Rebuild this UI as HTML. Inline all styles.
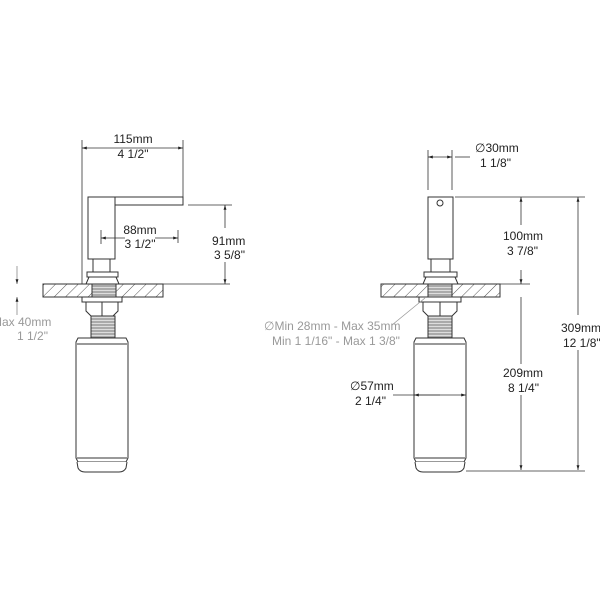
<!DOCTYPE html>
<html><head><meta charset="utf-8"><style>body{margin:0;background:#fff}svg{display:block}text{font-family:"Liberation Sans",sans-serif;font-size:12px;fill:#222}.g{fill:#999}</style></head><body>
<svg width="600" height="600" viewBox="0 0 600 600">
<defs>
<pattern id="h" width="8" height="8" patternUnits="userSpaceOnUse" patternTransform="rotate(45)"><line x1="0" y1="0" x2="0" y2="8" stroke="#555" stroke-width="1"/></pattern>
<pattern id="t" width="4" height="3" patternUnits="userSpaceOnUse"><rect width="4" height="3" fill="#ddd"/><line x1="0" y1="1" x2="4" y2="1" stroke="#777" stroke-width="1"/></pattern>
<marker id="a" viewBox="0 0 10 10" refX="10" refY="5" markerWidth="6" markerHeight="6" orient="auto-start-reverse"><path d="M0,2L10,5L0,8z" fill="#222"/></marker>
</defs>
<g fill="none" stroke="#333" stroke-width="1">
<rect x="88" y="197" width="27" height="62" fill="#fff"/>
<rect x="115" y="197" width="68" height="8" fill="#fff"/>
<path d="M93 259V272M110 259V272"/>
<rect x="87" y="272" width="31" height="5" fill="#fff"/>
<path d="M89 277L86 284H119L116 277"/>
<rect x="43" y="284" width="120" height="13" fill="url(#h)"/>
<rect x="92" y="284" width="24" height="13" fill="url(#t)"/>
<rect x="82" y="297" width="40" height="5" fill="#fff"/>
<path d="M86 302V311L91 316H113L118 311V302M102 302V316"/>
<rect x="91" y="316" width="24" height="22" fill="url(#t)"/>
<path d="M78 338H126L128 342V458L126 462H78L76 458V342Z" fill="#fff"/>
<path d="M77 344H127M77 458H127"/>
<path d="M77 462L78 468Q80 472 85 472H119Q124 472 126 468L127 462" fill="#fff"/>
<rect x="428" y="197" width="25" height="62" fill="#fff"/>
<circle cx="440" cy="203" r="3"/>
<path d="M431 259V272M450 259V272"/>
<rect x="424" y="272" width="33" height="5" fill="#fff"/>
<path d="M426 277L423 284H458L455 277"/>
<rect x="381" y="284" width="119" height="13" fill="url(#h)"/>
<rect x="428" y="284" width="24" height="13" fill="url(#t)"/>
<rect x="419" y="297" width="42" height="5" fill="#fff"/>
<path d="M423 302V311L428 316H452L457 311V302M440 302V316"/>
<rect x="428" y="316" width="24" height="22" fill="url(#t)"/>
<path d="M416 338H464L466 342V458L464 462H416L414 458V342Z" fill="#fff"/>
<path d="M415 344H465M415 458H465"/>
<path d="M415 462L416 468Q418 472 423 472H457Q462 472 464 468L465 462" fill="#fff"/>
</g>
<g stroke="#333" stroke-width="0.8" fill="none">
<path d="M82 140V284M183 140V197M188 205H232M178 230V243M101 230V244M95 284H230"/>
<line x1="82" y1="148" x2="183" y2="148" marker-start="url(#a)" marker-end="url(#a)"/>
<line x1="101" y1="238" x2="125" y2="238" marker-start="url(#a)"/>
<line x1="155" y1="238" x2="178" y2="238" marker-end="url(#a)"/>
<line x1="225" y1="228" x2="225" y2="205" marker-end="url(#a)"/>
<line x1="225" y1="262" x2="225" y2="284" marker-end="url(#a)"/>
<line x1="17" y1="266" x2="17" y2="284" marker-end="url(#a)" stroke="#888"/>
<line x1="17" y1="315" x2="17" y2="297" marker-end="url(#a)" stroke="#888"/>
<path d="M428 150V190M452 150V190M455 197H585M466 471H585M460 284H530" />
<line x1="428" y1="157" x2="452" y2="157" marker-start="url(#a)" marker-end="url(#a)"/>
<line x1="455" y1="157" x2="470" y2="157"/>
<line x1="521" y1="225" x2="521" y2="197" marker-end="url(#a)"/>
<line x1="521" y1="270" x2="521" y2="284" marker-end="url(#a)"/>
<line x1="521" y1="297" x2="521" y2="364"/>
<line x1="521" y1="395" x2="521" y2="470" marker-end="url(#a)"/>
<line x1="578" y1="315" x2="578" y2="197" marker-end="url(#a)"/>
<line x1="578" y1="350" x2="578" y2="470" marker-end="url(#a)"/>
<line x1="393" y1="395" x2="466" y2="395" marker-end="url(#a)"/>
<line x1="440" y1="395" x2="414" y2="395" marker-end="url(#a)"/>
<path d="M392 325L425 298" stroke="#999"/>
</g>
<text x="133" y="143" text-anchor="middle">115mm</text>
<text x="133" y="158" text-anchor="middle">4 1/2"</text>
<text x="140" y="234" text-anchor="middle">88mm</text>
<text x="140" y="248" text-anchor="middle">3 1/2"</text>
<text x="212" y="245">91mm</text>
<text x="214" y="259">3 5/8"</text>
<text x="-8" y="326" class="g">Max 40mm</text>
<text x="17" y="340" class="g">1 1/2"</text>
<text x="475" y="152">∅30mm</text>
<text x="480" y="167">1 1/8"</text>
<text x="503" y="240">100mm</text>
<text x="507" y="255">3 7/8"</text>
<text x="561" y="332">309mm</text>
<text x="563" y="347">12 1/8"</text>
<text x="503" y="377">209mm</text>
<text x="508" y="392">8 1/4"</text>
<text x="350" y="390">∅57mm</text>
<text x="355" y="405">2 1/4"</text>
<text x="264" y="330" class="g">∅Min 28mm - Max 35mm</text>
<text x="272" y="345" class="g">Min 1 1/16" - Max 1 3/8"</text>
</svg>
</body></html>
